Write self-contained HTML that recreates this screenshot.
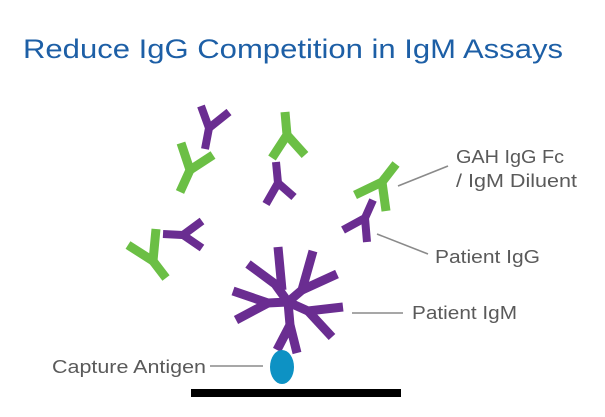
<!DOCTYPE html>
<html><head><meta charset="utf-8"><style>
html,body{margin:0;padding:0;background:#fff;}
svg{display:block;}
</style></head><body>
<svg width="605" height="417" viewBox="0 0 605 417" xmlns="http://www.w3.org/2000/svg">
<text x="23" y="58" font-family="Liberation Sans, sans-serif" font-size="27" fill="#1d5fa6" textLength="540" lengthAdjust="spacingAndGlyphs">Reduce IgG Competition in IgM Assays</text>
<g fill="none" stroke-linecap="butt" stroke-linejoin="miter">
<g stroke="#6a2d91" stroke-width="8">
<polyline points="201,106 209,128 205,149"/><line x1="229" y1="112" x2="209" y2="128"/>
<polyline points="276,162 278,183 266,204"/><line x1="278" y1="183" x2="294" y2="197"/>
<polyline points="373,200 365,218 343,230"/><line x1="365" y1="218" x2="367" y2="242"/>
<polyline points="163,234 183,235 202,221"/><line x1="183" y1="235" x2="202" y2="248"/>
</g>
<g stroke="#6a2d91" stroke-width="9">
<polyline points="248,264 275,284 288,302"/><line x1="278" y1="247" x2="282" y2="290"/>
<polyline points="313,251 302,290 288,302"/><line x1="337" y1="274" x2="302" y2="290"/>
<polyline points="343,307 308,311 288,302"/><line x1="332" y1="337" x2="308" y2="311"/>
<polyline points="277,350 290,325 288,302"/><line x1="297" y1="353" x2="290" y2="325"/>
<polyline points="233,291 268,303 288,302"/><line x1="236" y1="320" x2="268" y2="303"/>
</g>
<g stroke="#6bbf45" stroke-width="9">
<polyline points="181,143 190,170 180,192"/><line x1="213" y1="155" x2="190" y2="170"/>
<polyline points="285,112 287,135 272,158"/><line x1="287" y1="135" x2="305" y2="155"/>
<polyline points="396,164 382,182 355,195"/><line x1="382" y1="182" x2="386" y2="211"/>
<polyline points="156,229 153,261 128,245"/><line x1="153" y1="261" x2="166" y2="278"/>
</g>
<g stroke="#8a8a8a" stroke-width="1.6">
<line x1="398" y1="186" x2="448" y2="166"/>
<line x1="377" y1="234" x2="428" y2="254"/>
<line x1="352" y1="313" x2="403" y2="313"/>
<line x1="210" y1="366" x2="263" y2="366"/>
</g>
</g>
<ellipse cx="282" cy="367" rx="12" ry="17" fill="#0d92c4"/>
<rect x="191" y="389" width="210" height="8" fill="#000"/>
<g font-family="Liberation Sans, sans-serif" font-size="18" fill="#5a5a5a" lengthAdjust="spacingAndGlyphs">
<text x="456" y="163" textLength="108" lengthAdjust="spacingAndGlyphs">GAH IgG Fc</text>
<text x="456" y="187" textLength="121" lengthAdjust="spacingAndGlyphs">/ IgM Diluent</text>
<text x="435" y="263" textLength="105" lengthAdjust="spacingAndGlyphs">Patient IgG</text>
<text x="412" y="319" textLength="105" lengthAdjust="spacingAndGlyphs">Patient IgM</text>
<text x="52" y="373" textLength="154" lengthAdjust="spacingAndGlyphs">Capture Antigen</text>
</g>
</svg>
</body></html>
